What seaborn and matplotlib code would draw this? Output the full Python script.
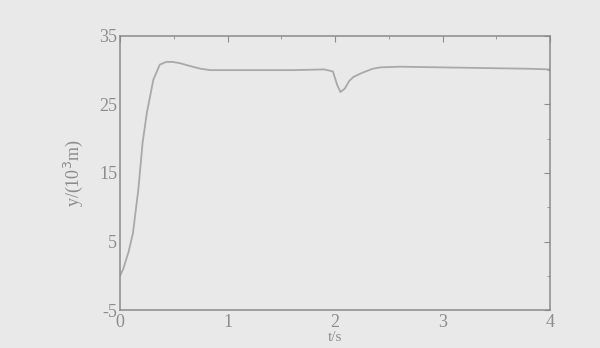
import numpy as np
import pandas as pd
from matplotlib import pyplot as plt
import seaborn as sns

# values
t_vals = [0.0, 0.03, 0.08, 0.12, 0.17, 0.21, 0.25, 0.31, 0.37, 0.43, 0.49, 0.56,
          0.65, 0.75, 0.84, 1.0, 1.3, 1.6, 1.9, 1.98, 2.02, 2.05, 2.09, 2.13,
          2.17, 2.25, 2.35, 2.42, 2.6, 3.0, 3.4, 3.8, 4.0]
y_vals = [0.0, 1.0, 3.5, 6.2, 12.5, 19.4, 23.8, 28.6, 30.8, 31.2, 31.2, 31.0,
          30.6, 30.2, 30.0, 30.0, 30.0, 30.0, 30.1, 29.8, 27.8, 26.8, 27.3, 28.4,
          29.0, 29.6, 30.2, 30.4, 30.5, 30.4, 30.3, 30.2, 30.1]

x_ticks = [0, 1, 2, 3, 4]
y_ticks = [-5, 5, 15, 25, 35]

df = pd.DataFrame({"t": t_vals, "y": y_vals})

sns.set_style("white")
plt.rcParams['font.family'] = ['Liberation Serif', 'DejaVu Serif']
plt.rcParams['axes.unicode_minus'] = False

bg = '#e9e9e9'
fg = '#8c8c8c'

fig = plt.figure(figsize=(6, 3.48), dpi=100, facecolor=bg)
ax = fig.add_axes([0.2, 0.109, 0.717, 0.788])
ax.set_facecolor(bg)

sns.lineplot(data=df, x="t", y="y", ax=ax, color='#a9a9a9', linewidth=1.3)

ax.set_xlim(0, 4)
ax.set_ylim(-5, 35)
ax.set_xticks(x_ticks)
ax.set_yticks(y_ticks)
ax.set_xticks(np.arange(0, 4.01, 0.5), minor=True)
ax.set_yticks([0, 10, 20, 30], minor=True)
ax.tick_params(which='both', direction='in', top=True, right=True, color=fg,
               labelcolor=fg, labelsize=13)
ax.tick_params(which='major', length=4)
ax.tick_params(which='minor', length=2.5)
ax.tick_params(axis='y', pad=2)
ax.tick_params(axis='x', pad=3)
for s in ax.spines.values():
    s.set_color('#8a8a8a')
    s.set_linewidth(1.1)

ax.set_ylabel(r'y/(10$^3$m)', color=fg, fontsize=13, labelpad=10)
ax.set_xlabel('t/s', color=fg, fontsize=11, labelpad=0)

fig.savefig('out.png', dpi=100, facecolor=bg)
